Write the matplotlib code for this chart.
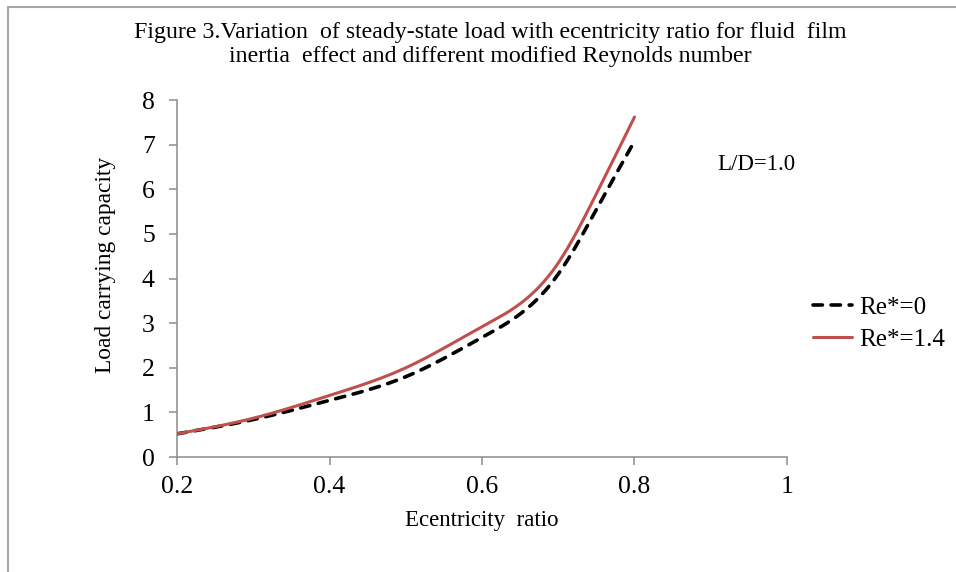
import numpy as np
import matplotlib
matplotlib.use("Agg")
import matplotlib.pyplot as plt
from matplotlib.patches import Rectangle

plt.rcParams["font.family"] = ["Liberation Serif", "DejaVu Serif"]

# eccentricity ratio and load for each modified Reynolds number
ecc = [0.2, 0.3, 0.4, 0.5, 0.6, 0.7, 0.75, 0.8]
load_re0 = [0.52, 0.84, 1.27, 1.80, 2.68, 4.10, 5.55, 7.08]
load_re14 = [0.52, 0.87, 1.38, 2.00, 2.92, 4.35, 5.90, 7.62]
series_labels = ["Re*=0", "Re*=1.4"]


def smooth(x, y, n=400):
    """Natural cubic spline through the points."""
    x = np.asarray(x, float)
    y = np.asarray(y, float)
    k = len(x)
    h = np.diff(x)
    a = np.zeros((k, k))
    r = np.zeros(k)
    a[0, 0] = a[-1, -1] = 1.0
    for i in range(1, k - 1):
        a[i, i - 1] = h[i - 1]
        a[i, i] = 2 * (h[i - 1] + h[i])
        a[i, i + 1] = h[i]
        r[i] = 6 * ((y[i + 1] - y[i]) / h[i] - (y[i] - y[i - 1]) / h[i - 1])
    m = np.linalg.solve(a, r)
    xs = np.linspace(x[0], x[-1], n)
    idx = np.clip(np.searchsorted(x, xs) - 1, 0, k - 2)
    x0, x1 = x[idx], x[idx + 1]
    hh = x1 - x0
    ys = (m[idx] * (x1 - xs) ** 3 / (6 * hh) + m[idx + 1] * (xs - x0) ** 3 / (6 * hh)
          + (y[idx] / hh - m[idx] * hh / 6) * (x1 - xs)
          + (y[idx + 1] / hh - m[idx + 1] * hh / 6) * (xs - x0))
    return xs, ys


fig = plt.figure(figsize=(9.56, 5.72), dpi=100)
ax = fig.add_axes([0.1852, 0.201, 0.638, 0.624])

# chart area frame (only top and left edges fall inside the image)
fig.patches.append(Rectangle((0.0085, -0.1), 1.2, 1.088, transform=fig.transFigure,
                             fill=False, edgecolor="#a6a6a6", linewidth=1.5))

xs, ys = smooth(ecc, load_re0)
ax.plot(xs, ys, color="black", linewidth=2.6, linestyle=(0, (2.6, 2.4)),
        dash_capstyle="round", label=series_labels[0], zorder=2)
xs, ys = smooth(ecc, load_re14)
ax.plot(xs, ys, color="#c0504d", linewidth=2.2, label=series_labels[1],
        solid_capstyle="round", zorder=3)

ax.set_xlim(0.2, 1.0)
ax.set_ylim(0, 8)
ax.set_xticks([0.2, 0.4, 0.6, 0.8, 1.0])
ax.set_xticklabels(["0.2", "0.4", "0.6", "0.8", "1"])
ax.set_yticks(range(0, 9))

for side in ["top", "right"]:
    ax.spines[side].set_visible(False)
for side in ["left", "bottom"]:
    ax.spines[side].set_color("#8c8c8c")
    ax.spines[side].set_linewidth(1.1)
ax.tick_params(direction="out", length=6, width=1.1, color="#8c8c8c",
               labelsize=18.5)
ax.tick_params(axis="x", pad=8)
ax.tick_params(axis="y", pad=10)

ax.set_xlabel("Ecentricity  ratio", fontsize=16.5, labelpad=8)
ax.set_ylabel("Load carrying capacity", fontsize=16.8)
ax.yaxis.set_label_coords(-0.1, 0.538)

fig.text(0.513, 0.922,
         "Figure 3.Variation  of steady-state load with ecentricity ratio for fluid  film\n"
         "inertia  effect and different modified Reynolds number",
         ha="center", va="center", fontsize=17.2, linespacing=1.2)

ax.text(0.908, 6.55, "L/D=1.0", fontsize=16.5, ha="left", va="center")

ax.legend(loc="center left", bbox_to_anchor=(1.043, 0.374), frameon=False,
          fontsize=18, borderpad=0, borderaxespad=0, handlelength=1.55,
          handletextpad=0.3, labelspacing=0.4)

fig.savefig("out.png", dpi=100)
